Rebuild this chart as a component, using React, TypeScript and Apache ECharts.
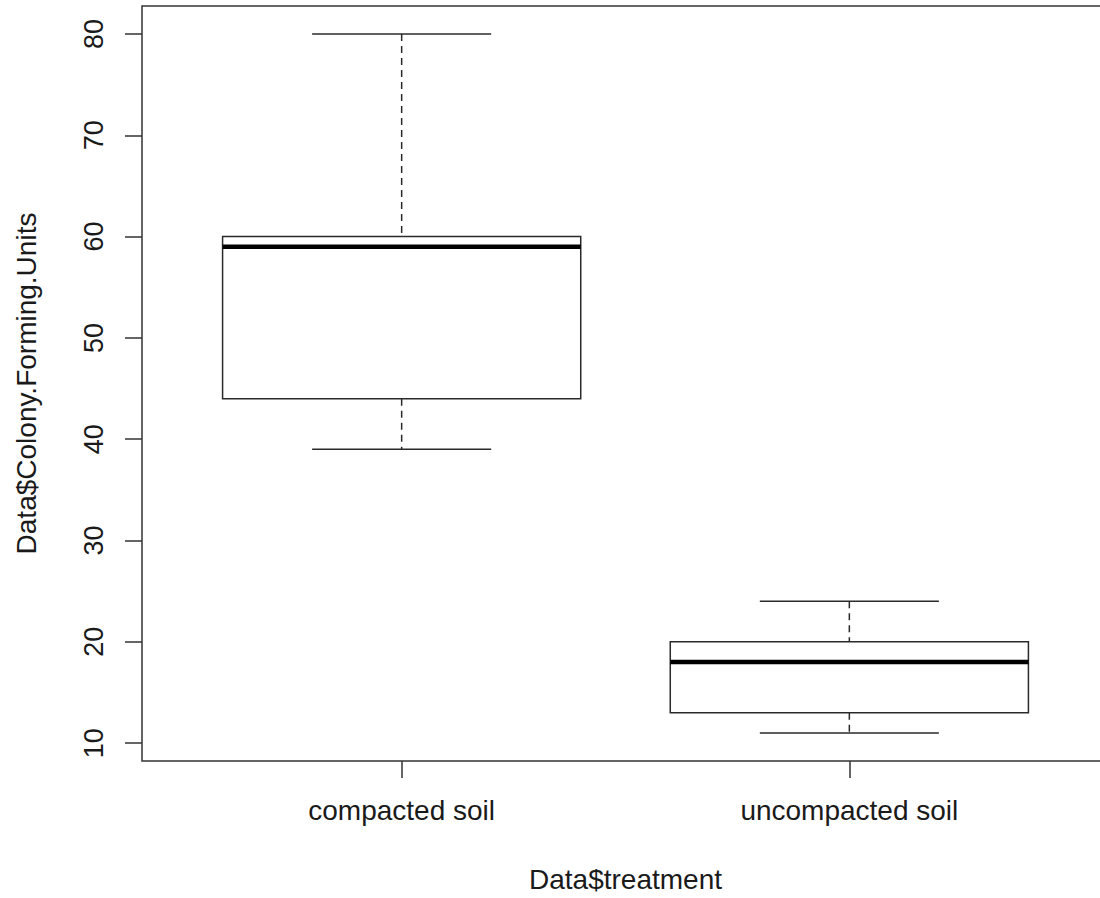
import React, { useEffect, useRef } from "react";
import * as echarts from "echarts";

const categories = ["compacted soil", "uncompacted soil"];
const lowerWhisker = [39, 11];
const q1 = [44, 13];
const median = [59, 18];
const q3 = [60, 20];
const upperWhisker = [80, 24];
const yTicks = [10, 20, 30, 40, 50, 60, 70, 80];
const xTicks = [1, 2];

const FONT = "'Liberation Sans', Arial, sans-serif";

export default function App() {
  const ref = useRef<HTMLDivElement>(null);
  useEffect(() => {
    if (!ref.current) return;
    const chart = echarts.init(ref.current, null, { renderer: "svg" });
    const data = categories.map((_, i) => [
      i + 1,
      lowerWhisker[i],
      q1[i],
      median[i],
      q3[i],
      upperWhisker[i],
    ]);
    const boxHalf = 0.4;
    const capHalf = 0.2;
    const lineColor = "#2a2a2a";
    chart.setOption({
      animation: false,
      backgroundColor: "#ffffff",
      grid: {
        left: 142,
        right: 3,
        top: 6,
        bottom: 137,
        show: true,
        borderColor: "#333",
        borderWidth: 1.5,
        backgroundColor: "transparent",
      },
      xAxis: {
        type: "value",
        min: 0.42,
        max: 2.58,
        name: "Data$treatment",
        nameLocation: "middle",
        nameGap: 104,
        nameTextStyle: { fontFamily: FONT, fontSize: 28, color: "#1a1a1a" },
        axisLine: { show: false },
        splitLine: { show: false },
        axisTick: {
          show: true,
          customValues: xTicks,
          length: 17,
          lineStyle: { color: "#333", width: 1.5 },
        },
        axisLabel: {
          show: true,
          customValues: xTicks,
          margin: 35,
          fontFamily: FONT,
          fontSize: 28,
          color: "#1a1a1a",
          formatter: (v: number) => categories[Math.round(v) - 1] ?? "",
        },
      },
      yAxis: {
        type: "value",
        min: 8.24,
        max: 82.76,
        name: "Data$Colony.Forming.Units",
        nameLocation: "middle",
        nameGap: 102,
        nameTextStyle: { fontFamily: FONT, fontSize: 28, color: "#1a1a1a" },
        axisLine: { show: false },
        splitLine: { show: false },
        axisTick: {
          show: true,
          customValues: yTicks,
          length: 17,
          lineStyle: { color: "#333", width: 1.5 },
        },
        axisLabel: {
          show: true,
          customValues: yTicks,
          rotate: 90,
          margin: 35,
          fontFamily: FONT,
          fontSize: 27,
          color: "#1a1a1a",
        },
      },
      series: [
        {
          type: "custom",
          data,
          encode: { x: 0, y: [1, 2, 3, 4, 5] },
          renderItem: (params: any, api: any) => {
            const x = api.value(0);
            const lo = api.value(1);
            const b1 = api.value(2);
            const med = api.value(3);
            const b3 = api.value(4);
            const hi = api.value(5);
            const tl = api.coord([x - boxHalf, b3]);
            const br = api.coord([x + boxHalf, b1]);
            const cHi = api.coord([x, hi]);
            const cB3 = api.coord([x, b3]);
            const cB1 = api.coord([x, b1]);
            const cLo = api.coord([x, lo]);
            const mL = api.coord([x - boxHalf, med]);
            const mR = api.coord([x + boxHalf, med]);
            const capLHi = api.coord([x - capHalf, hi]);
            const capRHi = api.coord([x + capHalf, hi]);
            const capLLo = api.coord([x - capHalf, lo]);
            const capRLo = api.coord([x + capHalf, lo]);
            const thin = { stroke: lineColor, lineWidth: 1.5 };
            const dashed = { stroke: lineColor, lineWidth: 1.5, lineDash: [7, 5] };
            return {
              type: "group",
              children: [
                {
                  type: "line",
                  shape: { x1: cHi[0], y1: cHi[1], x2: cB3[0], y2: cB3[1] },
                  style: dashed,
                },
                {
                  type: "line",
                  shape: { x1: cB1[0], y1: cB1[1], x2: cLo[0], y2: cLo[1] },
                  style: dashed,
                },
                {
                  type: "line",
                  shape: { x1: capLHi[0], y1: capLHi[1], x2: capRHi[0], y2: capRHi[1] },
                  style: thin,
                },
                {
                  type: "line",
                  shape: { x1: capLLo[0], y1: capLLo[1], x2: capRLo[0], y2: capRLo[1] },
                  style: thin,
                },
                {
                  type: "rect",
                  shape: {
                    x: tl[0],
                    y: tl[1],
                    width: br[0] - tl[0],
                    height: br[1] - tl[1],
                  },
                  style: { fill: "#ffffff", stroke: lineColor, lineWidth: 1.5 },
                },
                {
                  type: "line",
                  shape: { x1: mL[0], y1: mL[1], x2: mR[0], y2: mR[1] },
                  style: { stroke: "#000", lineWidth: 4.5 },
                },
              ],
            };
          },
        },
      ],
    });
    return () => chart.dispose();
  }, []);
  return (
    <div
      style={{
        position: "fixed",
        left: 0,
        top: 0,
        width: 1100,
        height: 898,
        overflow: "hidden",
        background: "#fff",
      }}
    >
      <div ref={ref} style={{ width: 1112, height: 898 }} />
    </div>
  );
}
